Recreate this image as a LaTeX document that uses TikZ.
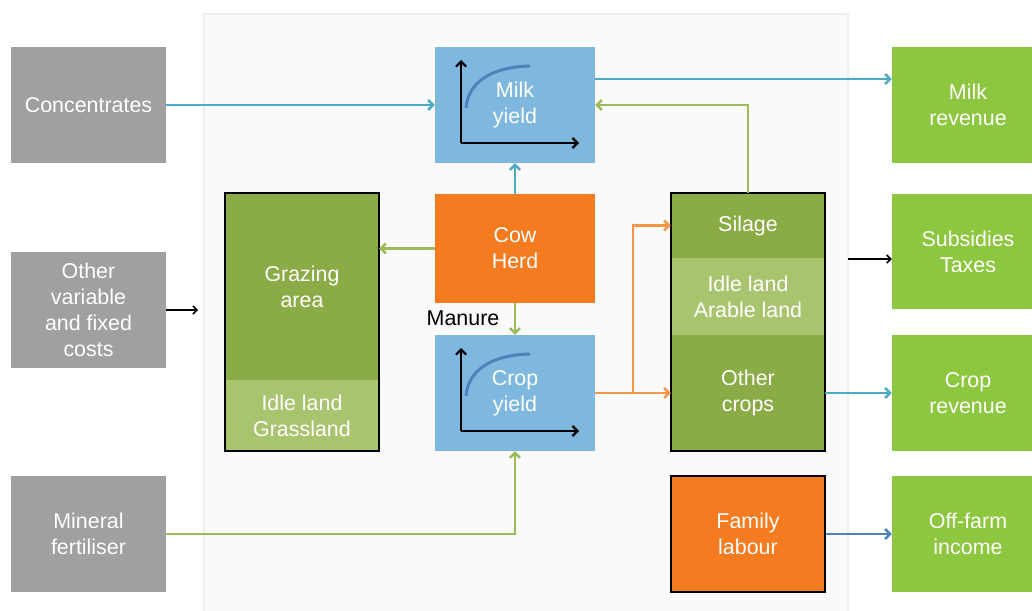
\documentclass[tikz,border=0pt]{standalone}
\usepackage{fontspec}
\setmainfont{Liberation Sans}
\usetikzlibrary{arrows.meta}
\definecolor{inputgray}{HTML}{A0A0A0}
\definecolor{yieldblue}{HTML}{7EB8DE}
\definecolor{herdorange}{HTML}{F47B20}
\definecolor{landdark}{HTML}{8AAB46}
\definecolor{landlight}{HTML}{A9C46F}
\definecolor{outgreen}{HTML}{8DC63F}
\definecolor{flowblue}{HTML}{4BACC6}
\definecolor{flowgreen}{HTML}{9BBB59}
\definecolor{floworange}{HTML}{F79646}
\definecolor{curveblue}{HTML}{4F81BD}
\definecolor{panelfill}{HTML}{FAFAFA}
\definecolor{panelline}{HTML}{EEEEEE}
\begin{document}
\begin{tikzpicture}[x=1bp,y=-1bp,
  box/.style={rectangle, inner sep=0pt, align=center, text=white, font=\fontsize{21.5}{26}\selectfont},
  inbox/.style={box, fill=inputgray, minimum width=155bp, minimum height=116bp},
  outbox/.style={box, fill=outgreen, minimum width=152bp, minimum height=116bp},
  yieldbox/.style={box, fill=yieldblue, minimum width=160bp, minimum height=116bp},
  landbox/.style={box, minimum width=154bp},
  flow/.style={line width=2.5bp, -{Straight Barb[length=5bp,width=10bp]}},
  plain/.style={line width=1.5bp, -{Straight Barb[length=4bp,width=8bp]}}]
\useasboundingbox[fill=white] (0,0) rectangle (1032,611);
\fill[panelfill] (204,14) rectangle (848,611);
\draw[panelline, line width=1.5bp] (204,611) |- (848,14) -- (848,611);

\node[inbox] (conc) at (88.5,105) {Concentrates};
\node[inbox] (othc) at (88.5,310) {Other\\variable\\and fixed\\costs};
\node[inbox] (minf) at (88.5,534) {Mineral\\fertiliser};

\node[yieldbox] (milky) at (515,105) {Milk\\yield};
\node[box, fill=herdorange, minimum width=160bp, minimum height=109bp] (cow) at (515,248.5) {Cow\\Herd};
\node[yieldbox] (cropy) at (515,393) {Crop\\yield};
\node[font=\fontsize{21.5}{26}\selectfont] (manure) at (463,318) {Manure};
\foreach \y in {milky,cropy}{
  \draw[line width=2.2bp, -{Straight Barb[length=5bp,width=10bp]}] ([shift={(-54,38)}]\y.center) -- ([shift={(-54,-45)}]\y.center);
  \draw[line width=2.2bp, -{Straight Barb[length=5bp,width=10bp]}] ([shift={(-54,38)}]\y.center) -- ([shift={(64,38)}]\y.center);
  \draw[curveblue, line width=3bp] ([shift={(-49,3)}]\y.center) .. controls ([shift={(-47,-22)}]\y.center) and ([shift={(-25,-38)}]\y.center) .. ([shift={(15,-39)}]\y.center);
}

\node[landbox, fill=landdark, minimum height=187bp] (graz) at (302,286.5) {Grazing\\area};
\node[landbox, fill=landlight, minimum height=71bp] (idleg) at (302,415.5) {Idle land\\Grassland};
\draw[line width=1.8bp] (graz.north west) rectangle (idleg.south east);

\node[landbox, fill=landdark, minimum height=65bp] (silage) at (748,225.5) {Silage};
\node[landbox, fill=landlight, minimum height=77bp] (idlea) at (748,296.5) {Idle land\\Arable land};
\node[landbox, fill=landdark, minimum height=116bp] (othcr) at (748,393) {Other\\crops};
\draw[line width=1.8bp] (silage.north west) rectangle (othcr.south east);
\node[landbox, fill=herdorange, minimum height=116bp, draw=black, line width=1.8bp] (famlab) at (748,534) {Family\\labour};

\node[outbox] (milkr) at (968,105) {Milk\\revenue};
\node[outbox, minimum height=115bp] (subs) at (968,251.5) {Subsidies\\Taxes};
\node[outbox] (cropr) at (968,393) {Crop\\revenue};
\node[outbox] (offf) at (968,534) {Off-farm\\income};

\coordinate (costend) at (198,310);
\coordinate (split) at (633,393);
\coordinate (paneledge) at (848,259);

\draw[flow, flowblue] (conc.east) -- (milky.west);
\draw[flow, flowblue] ([yshift=26bp]milky.east) -- ([yshift=26bp]milky.east -| milkr.west);
\draw[flow, flowblue] (cow.north) -- (milky.south);
\draw[flow, flowgreen] (cow.west) -- (cow.west -| graz.east);
\draw[flow, flowgreen] (cow.south) -- (cropy.north);
\draw[flow, flowgreen] (silage.north) |- (milky.east);
\draw[flow, flowgreen] (minf.east) -| (cropy.south);
\draw[flow, floworange] (cropy.east) -- (othcr.west);
\draw[flow, floworange] (split) |- (silage.west);
\draw[flow, flowblue] (othcr.east) -- (cropr.west);
\draw[flow, curveblue] (famlab.east) -- (offf.west);
\draw[plain] (othc.east) -- (costend);
\draw[plain] (paneledge) -- (paneledge -| subs.west);

\end{tikzpicture}
\end{document}
